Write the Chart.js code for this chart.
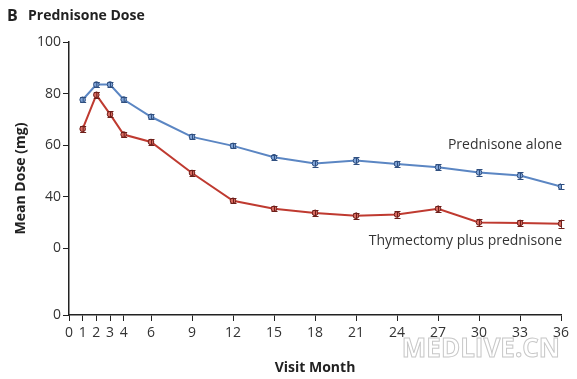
<!DOCTYPE html>
<html>
<head>
<meta charset="utf-8">
<script src="https://cdn.jsdelivr.net/npm/chart.js@4/dist/chart.umd.min.js"></script>
<style>
html,body{margin:0;padding:0;background:#fff;}
#wrap{width:577px;height:379px;position:relative;}
</style>
</head>
<body>
<div id="wrap"><canvas id="c" width="577" height="379"></canvas></div>
<script>
const months = [1, 2, 3, 4, 6, 9, 12, 15, 18, 21, 24, 27, 30, 33, 36];
const prednisoneAlone = [77.6, 83.5, 83.5, 77.7, 71.0, 63.2, 59.7, 55.3, 52.9, 54.0, 52.7, 51.4, 49.4, 48.2, 43.9];
const prednisoneAloneErr = [1.0, 1.0, 1.0, 1.0, 1.0, 1.0, 1.0, 1.0, 1.2, 1.2, 1.0, 1.2, 1.2, 1.2, 1.0];
const thymectomy = [66.3, 79.5, 72.0, 64.1, 61.2, 49.2, 38.4, 35.3, 33.7, 32.6, 33.1, 35.3, 30.0, 29.8, 29.5];
const thymectomyErr = [1.2, 1.2, 1.2, 1.0, 1.0, 1.0, 1.0, 1.0, 1.2, 1.2, 1.2, 1.2, 1.4, 1.2, 1.6];
const xTickValues = [0, 1, 2, 3, 4, 6, 9, 12, 15, 18, 21, 24, 27, 30, 33, 36];
const yTickValues = [-5.9, 20, 40, 60, 80, 100];
const yTickLabels = ["0", "0", "40", "60", "80", "100"];
const seriesNames = ["Prednisone alone", "Thymectomy plus prednisone"];

const FONT = "'Open Sans', 'DejaVu Sans', sans-serif";
const BLUE = "#5b86c3";
const RED = "#bf3a30";

const errs = [prednisoneAloneErr, thymectomyErr];
const extras = {
  id: 'extras',
  afterDatasetsDraw(chart) {
    const ctx = chart.ctx;
    const xs = chart.scales.x, ys = chart.scales.y;
    ctx.save();
    chart.data.datasets.forEach((ds, di) => {
      const e = errs[di];
      ctx.strokeStyle = di === 0 ? "#2f4f80" : "#6e1f1a";
      ctx.lineWidth = 1;
      ds.data.forEach((p, i) => {
        const x = xs.getPixelForValue(p.x);
        const y1 = ys.getPixelForValue(p.y - e[i]);
        const y2 = ys.getPixelForValue(p.y + e[i]);
        ctx.beginPath();
        ctx.moveTo(x + 0.5, y1); ctx.lineTo(x + 0.5, y2);
        ctx.moveTo(x - 2.5, Math.round(y1) + 0.5); ctx.lineTo(x + 3.5, Math.round(y1) + 0.5);
        ctx.moveTo(x - 2.5, Math.round(y2) + 0.5); ctx.lineTo(x + 3.5, Math.round(y2) + 0.5);
        ctx.stroke();
      });
    });
    // series labels
    ctx.fillStyle = "#333";
    ctx.font = "14px " + FONT;
    ctx.textAlign = "right";
    ctx.textBaseline = "middle";
    ctx.fillText(seriesNames[0], 562, 145);
    ctx.fillText(seriesNames[1], 562, 241);
    // panel title
    ctx.textAlign = "left";
    ctx.fillStyle = "#222";
    ctx.font = "bold 16px " + FONT;
    ctx.fillText("B", 7, 16);
    ctx.font = "bold 14px " + FONT;
    ctx.fillText("Prednisone Dose", 28, 16);
    // watermark
    ctx.font = "bold 26px " + FONT;
    ctx.textAlign = "right";
    ctx.strokeStyle = "#c8c8c8";
    ctx.lineWidth = 1;
    ctx.fillStyle = "#ffffff";
    ctx.fillText("MEDLIVE.CN", 560, 350);
    ctx.strokeText("MEDLIVE.CN", 560, 350);
    ctx.restore();
  }
};

new Chart(document.getElementById('c'), {
  type: 'line',
  data: {
    datasets: [
      {
        label: seriesNames[0],
        data: months.map((m, i) => ({x: m, y: prednisoneAlone[i]})),
        borderColor: BLUE, backgroundColor: BLUE,
        pointBorderColor: "#2f4f80", pointBackgroundColor: "#7fa3d6",
        borderWidth: 2, pointRadius: 2.8, pointBorderWidth: 1, tension: 0
      },
      {
        label: seriesNames[1],
        data: months.map((m, i) => ({x: m, y: thymectomy[i]})),
        borderColor: RED, backgroundColor: RED,
        pointBorderColor: "#6e1f1a", pointBackgroundColor: "#d86a60",
        borderWidth: 2, pointRadius: 2.8, pointBorderWidth: 1, tension: 0
      }
    ]
  },
  options: {
    responsive: false,
    animation: false,
    layout: {padding: {top: 42, right: 16, left: 0, bottom: 0}},
    plugins: {legend: {display: false}, tooltip: {enabled: false}},
    scales: {
      x: {
        type: 'linear', min: 0, max: 36,
        afterBuildTicks: (s) => { s.ticks = xTickValues.map(v => ({value: v})); },
        afterFit: (s) => { s.height = 64; },
        grid: {drawOnChartArea: false, drawTicks: true, tickLength: 6, color: "#222", lineWidth: 1},
        border: {display: true, color: "#222", width: 1.5},
        ticks: {color: "#333", font: {family: FONT, size: 14}, padding: 4, maxRotation: 0, autoSkip: false,
                callback: (v) => String(v)},
        title: {display: true, text: "Visit Month", color: "#222", font: {family: FONT, size: 14, weight: 'bold'}, padding: {top: 4, bottom: 3}}
      },
      y: {
        type: 'linear', min: -5.9, max: 100,
        afterBuildTicks: (s) => { s.ticks = yTickValues.map(v => ({value: v})); },
        afterFit: (s) => { s.width = 69; },
        grid: {drawOnChartArea: false, drawTicks: true, tickLength: 6, color: "#222", lineWidth: 1},
        border: {display: true, color: "#222", width: 1.5},
        ticks: {color: "#333", font: {family: FONT, size: 14}, padding: 2, autoSkip: false,
                callback: (v, i) => yTickLabels[i]},
        title: {display: true, text: "Mean Dose (mg)", color: "#222", font: {family: FONT, size: 14, weight: 'bold'}, padding: {top: 13, bottom: 0}}
      }
    }
  },
  plugins: [extras]
});
</script>
</body>
</html>
